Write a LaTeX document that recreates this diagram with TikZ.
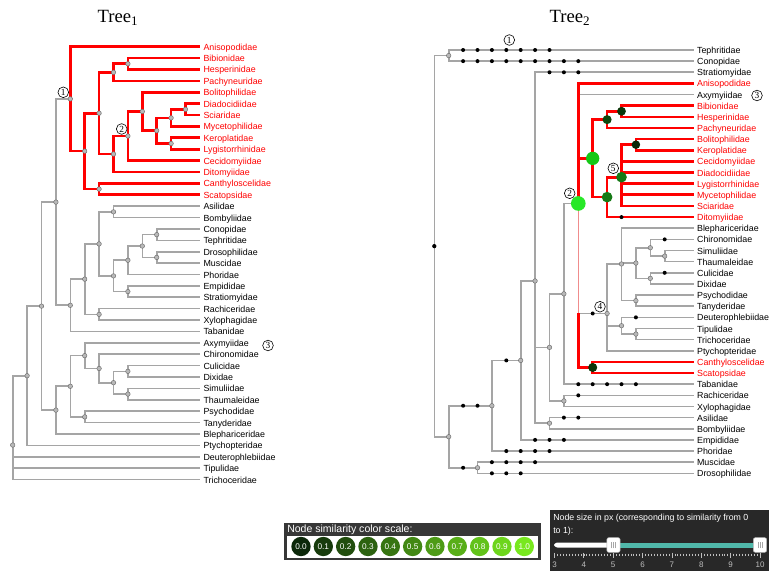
\documentclass[tikz,border=0pt]{standalone}
\usepackage{fontspec}
\setmainfont{Liberation Serif}
\setsansfont{Liberation Sans}
\definecolor{edgegray}{RGB}{165,165,165}
\definecolor{nodegray}{RGB}{185,185,185}
\definecolor{nodeline}{RGB}{110,110,110}
\definecolor{fadedred}{RGB}{240,140,140}
\definecolor{simlow}{RGB}{12,40,10}
\definecolor{simhigh}{RGB}{120,232,30}
\definecolor{simtop}{RGB}{40,232,40}
\definecolor{simgood}{RGB}{22,200,22}
\definecolor{simmid}{RGB}{22,122,22}
\definecolor{simdarka}{RGB}{14,72,14}
\definecolor{simdarkb}{RGB}{10,54,10}
\definecolor{simdarkc}{RGB}{8,40,8}
\definecolor{panel}{RGB}{55,55,55}
\definecolor{panelb}{RGB}{40,40,40}
\definecolor{track}{RGB}{80,184,170}
\definecolor{tickgray}{RGB}{190,190,190}
\usetikzlibrary{arrows.meta}

\begin{document}
\begin{tikzpicture}[x=0.75pt, y=-0.75pt,
	every node/.style={font=\sffamily\fontsize{6.65}{8}\selectfont},
	gedge/.style={draw=edgegray, line width=1.2pt},
	redge/.style={draw=red, line width=2pt},
	fedge/.style={draw=fadedred, line width=1pt},
	inner/.style={fill=nodegray, draw=nodeline, line width=0.35pt},
	taxon/.style={anchor=west, inner xsep=2.7pt, inner ysep=0pt, outer sep=0pt, text height=1.5ex, text depth=0.35ex},
	tag/.style={circle, draw, fill=white, line width=0.45pt, inner sep=0pt, minimum size=8pt, font=\rmfamily\fontsize{7}{7}\selectfont},
	simdot/.style={circle, inner sep=0pt, minimum size=14.5pt, text=white, font=\sffamily\fontsize{6.2}{7}\selectfont}]
	\useasboundingbox (0,0) rectangle (769,571);
	\fill[white] (0,0) rectangle (769,571);
	\node[font=\rmfamily\fontsize{14}{16}\selectfont] (title1) at (118,18) {Tree\textsubscript{1}};
	\node[font=\rmfamily\fontsize{14}{16}\selectfont] (title2) at (570,18) {Tree\textsubscript{2}};

	% Tree 1
	\begin{scope}[xshift=9.525pt, yshift=-35.025pt, x=10.8pt, y=-8.5425pt]
		\foreach \nm [count=\i from 0] in {Anisopodidae,Bibionidae,Hesperinidae,Pachyneuridae,Bolitophilidae,Diadocidiidae,Sciaridae,Mycetophilidae,Keroplatidae,Lygistorrhinidae,Cecidomyiidae,Ditomyiidae,Canthyloscelidae,Scatopsidae}
			\node[taxon, text=red] (a\i) at (13,\i) {\nm};
		\foreach \nm [count=\i from 14] in {Asilidae,Bombyliidae,Conopidae,Tephritidae,Drosophilidae,Muscidae,Phoridae,Empididae,Stratiomyidae,Rachiceridae,Xylophagidae,Tabanidae,Axymyiidae,Chironomidae,Culicidae,Dixidae,Simuliidae,Thaumaleidae,Psychodidae,Tanyderidae,Blephariceridae,Ptychopteridae,Deuterophlebiidae,Tipulidae,Trichoceridae}
			\node[taxon] (a\i) at (13,\i) {\nm};
		\foreach \n/\d/\y in {aRoot/0/34.972, aA/1/28.888, aB/2/22.775, aC/3/13.644, aD/3/31.906,
			aN1/4/4.584, aE/4/22.703, aD1/4/29.813, aF/5/9.168, aQ/5/20.406, aD2/5/27.125, aD3/5/32.5,
			aG/6/5.836, aH/6/12.5, aS/6/17.313, aT/6/23.5, aD4/6/28.25, aI/7/2.25, aJ/7/9.422,
			aU/7/14.5, aV/7/20.125, aD5/7/29.5, aK/8/1.5, aN2/8/7.844, aW/8/18.75, aX/8/21.5,
			aD6/8/28.5, aD7/8/30.5, aL/9/5.688, aY/9/17.5, aM/10/7.375, aZ1/10/16.5, aZ2/10/18.5,
			aN/11/6.25, aO/11/8.5, aP/12/5.5}
			\coordinate (\n) at (\d,\y);
		\foreach \p/\c in {aRoot/aA, aRoot/a36, aRoot/a37, aRoot/a38, aA/aB, aA/a35, aB/aC, aB/aD,
			aC/aN1, aC/aE, aE/aQ, aE/a25, aQ/aS, aQ/aT, aS/aU, aS/aV, aU/a14, aU/a15, aV/aW, aV/aX,
			aW/aY, aW/a20, aY/aZ1, aY/aZ2, aZ1/a16, aZ1/a17, aZ2/a18, aZ2/a19, aX/a21, aX/a22,
			aT/a23, aT/a24, aD/aD1, aD/a34, aD1/aD2, aD1/aD3, aD2/a26, aD2/aD4, aD4/a27, aD4/aD5,
			aD5/aD6, aD5/aD7, aD6/a28, aD6/a29, aD7/a30, aD7/a31, aD3/a32, aD3/a33}
			\draw[gedge] (\p) |- (\c);
		\foreach \p/\c in {aN1/a0, aN1/aF, aF/aG, aF/aH, aG/aI, aG/aJ, aI/aK, aI/a3, aK/a1, aK/a2,
			aJ/aN2, aJ/a11, aN2/aL, aN2/a10, aL/a4, aL/aM, aM/aN, aM/aO, aN/aP, aN/a7, aP/a5, aP/a6,
			aO/a8, aO/a9, aH/a12, aH/a13}
			\draw[redge] (\p) |- (\c);
		\foreach \n in {aRoot,aA,aB,aC,aD,aN1,aE,aD1,aF,aQ,aD2,aD3,aG,aH,aS,aT,aD4,aI,aJ,aU,aV,aD5,aK,aN2,aW,aX,aD6,aD7,aL,aY,aM,aZ1,aZ2,aN,aO,aP}
			\filldraw[inner] (\n) circle (1.7pt);
	\end{scope}

	% Tree 2
	\begin{scope}[xshift=325.725pt, yshift=-37.5pt, x=10.8pt, y=-8.355pt]
		\foreach \nm/\tc [count=\i from 0] in {Tephritidae/black, Conopidae/black, Stratiomyidae/black, Anisopodidae/red,
			Axymyiidae/black, Bibionidae/red, Hesperinidae/red, Pachyneuridae/red, Bolitophilidae/red, Keroplatidae/red,
			Cecidomyiidae/red, Diadocidiidae/red, Lygistorrhinidae/red, Mycetophilidae/red, Sciaridae/red, Ditomyiidae/red,
			Blephariceridae/black, Chironomidae/black, Simuliidae/black, Thaumaleidae/black, Culicidae/black, Dixidae/black,
			Psychodidae/black, Tanyderidae/black, Deuterophlebiidae/black, Tipulidae/black, Trichoceridae/black,
			Ptychopteridae/black, Canthyloscelidae/red, Scatopsidae/red, Tabanidae/black, Rachiceridae/black,
			Xylophagidae/black, Asilidae/black, Bombyliidae/black, Empididae/black, Phoridae/black, Muscidae/black,
			Drosophilidae/black}
			\node[taxon, text=\tc] (b\i) at (18,\i) {\nm};
		\foreach \n/\d/\y in {bRoot/0/17.608, bTC/1/0.5, bBB/1/34.716, bMD/3/37.5, bD4/4/31.933, bD6/6/27.866,
			bD7/7/20.731, bNx/8/26.694, bAB/8/33.5, bTN/9/21.888, bRX/9/31.5, bN2/10/13.776, bG1/11/9.729,
			bCS/11/28.5, bBHP/12/6.25, bN5D/12/13.208, bN4/12/23.653, bBH/13/5.5, bN5/13/11.417,
			bBlN/13/19.208, bDTT/13/24.75, bBK/14/8.5, bCC/14/19.125, bPT/14/22.5, bTT/14/25.5,
			bChS/15/17.75, bCuD/15/20.5, bST/16/18.5}
			\coordinate (\n) at (\d,\y);
		\foreach \p/\c in {bRoot/bTC, bRoot/bBB, bTC/b0, bTC/b1, bBB/bD4, bBB/bMD, bMD/b37, bMD/b38,
			bD4/bD6, bD4/b36, bD6/bD7, bD6/b35, bD7/b2, bD7/bNx, bD7/bAB, bAB/b33, bAB/b34,
			bNx/bTN, bNx/bRX, bRX/b31, bRX/b32, bTN/bN2, bTN/b30, bN2/b4,
			bN4/bBlN, bN4/bDTT, bN4/b27, bBlN/b16, bBlN/bCC, bBlN/bPT, bCC/bChS, bCC/bCuD,
			bChS/b17, bChS/bST, bST/b18, bST/b19, bCuD/b20, bCuD/b21, bPT/b22, bPT/b23,
			bDTT/b24, bDTT/bTT, bTT/b25, bTT/b26}
			\draw[gedge] (\p) |- (\c);
		\draw[fedge] (bN2) -- (bN2 |- bN4);
		\draw[gedge] (bN2 |- bN4) -- (bN4);
		\draw[redge] (bN2 |- bN4) |- (bCS);
		\foreach \p/\c in {bN2/b3, bN2/bG1, bG1/bBHP, bG1/bN5D, bBHP/bBH, bBHP/b7, bBH/b5, bBH/b6,
			bN5D/bN5, bN5D/b15, bN5/bBK, bN5/b10, bN5/b11, bN5/b12, bN5/b13, bN5/b14,
			bBK/b8, bBK/b9, bCS/b28, bCS/b29}
			\draw[redge] (\p) |- (\c);
		\foreach \y/\s/\e in {0/2/8, 1/2/10, 2/8/10, 15/13/13, 17/16/16, 20/16/16, 24/14/14, 30/10/14,
			31/10/10, 33/9/10, 35/7/9, 36/5/8, 37/4/7, 38/4/6, 31.933/2/3, 37.5/2/2, 27.866/5/5, 23.653/11/11}
			\foreach \d in {\s,...,\e}
				\fill (\d,\y) circle (1.5pt);
		\fill (bRoot) circle (1.6pt);
		\foreach \n in {bTC,bBB,bMD,bD4,bD6,bD7,bNx,bAB,bTN,bRX,bN4,bBlN,bDTT,bCC,bPT,bTT,bChS,bCuD,bST}
			\filldraw[inner] (\n) circle (1.7pt);
		\fill[simtop] (bN2) circle (5.5pt);
		\fill[simgood] (bG1) circle (5pt);
		\fill[simmid] (bN5D) circle (4pt);
		\fill[simmid] (bN5) circle (4pt);
		\fill[simdarka] (bBHP) circle (3.4pt);
		\fill[simdarkb] (bBH) circle (3.3pt);
		\fill[simdarkc] (bBK) circle (3.2pt);
		\fill[simdarkb] (bCS) circle (3.4pt);
	\end{scope}

	\node[tag] (lone) at (63.3,92.3) {1};
	\node[tag] (ltwo) at (121.7,129) {2};
	\node[tag] (lthree) at (268,345.5) {3};
	\node[tag] (rone) at (509.3,40) {1};
	\node[tag] (rtwo) at (569.7,193.3) {2};
	\node[tag] (rthree) at (757,95.5) {3};
	\node[tag] (rfour) at (600,306.7) {4};
	\node[tag] (rfive) at (613.3,168.3) {5};

	% legends
	\fill[panel] (284,523) rectangle (541,560);
	\node[anchor=west, inner sep=0pt, text=white, font=\sffamily\fontsize{7.9}{9}\selectfont] (simtitle) at (287,529.5) {Node similarity color scale:};
	\fill[white] (286.5,536) rectangle (538,558);
	\foreach \v [count=\k from 0] in {0.0,0.1,0.2,0.3,0.4,0.5,0.6,0.7,0.8,0.9,1.0} {
		\pgfmathtruncatemacro\pct{10*\k}
		\node[simdot, fill=simhigh!\pct!simlow] (sim\k) at (301+22.33*\k,546.5) {\v};
	}
	\fill[panelb] (550,510) rectangle (769,571);
	\node[anchor=north west, align=left, inner sep=0pt, text=white, font=\sffamily\fontsize{6.6}{9.3}\selectfont] (sizetitle) at (553,514) {Node size in px (corresponding to similarity from 0\\to 1):};
	\fill[white, rounded corners=2.5pt] (554,542.5) rectangle (616,547.5);
	\fill[track] (612,542.5) rectangle (758,547.5);
	\foreach \m in {0,...,70}
		\draw[tickgray, line width=0.5pt] (554.5+2.936*\m,553.5) -- (554.5+2.936*\m,556);
	\foreach \v [count=\k from 0] in {3,...,10} {
		\draw[tickgray, line width=0.6pt] (554.5+29.36*\k,552.5) -- (554.5+29.36*\k,558);
		\node[text=tickgray, inner sep=0pt, font=\sffamily\fontsize{6}{7}\selectfont] (tick\v) at (554.5+29.36*\k,565) {\v};
	}
	\foreach \knob/\kx in {lowknob/613.5, highknob/760} {
		\node[draw=gray!60, fill=white, rounded corners=1.5pt, minimum width=10pt, minimum height=11pt, inner sep=0pt] (\knob) at (\kx,545) {};
		\foreach \o in {-1.6,0,1.6}
			\draw[gray!70, line width=0.4pt] ([xshift=\o pt, yshift=-2.5pt]\knob.center) -- ([xshift=\o pt, yshift=2.5pt]\knob.center);
	}
\end{tikzpicture}
\end{document}
